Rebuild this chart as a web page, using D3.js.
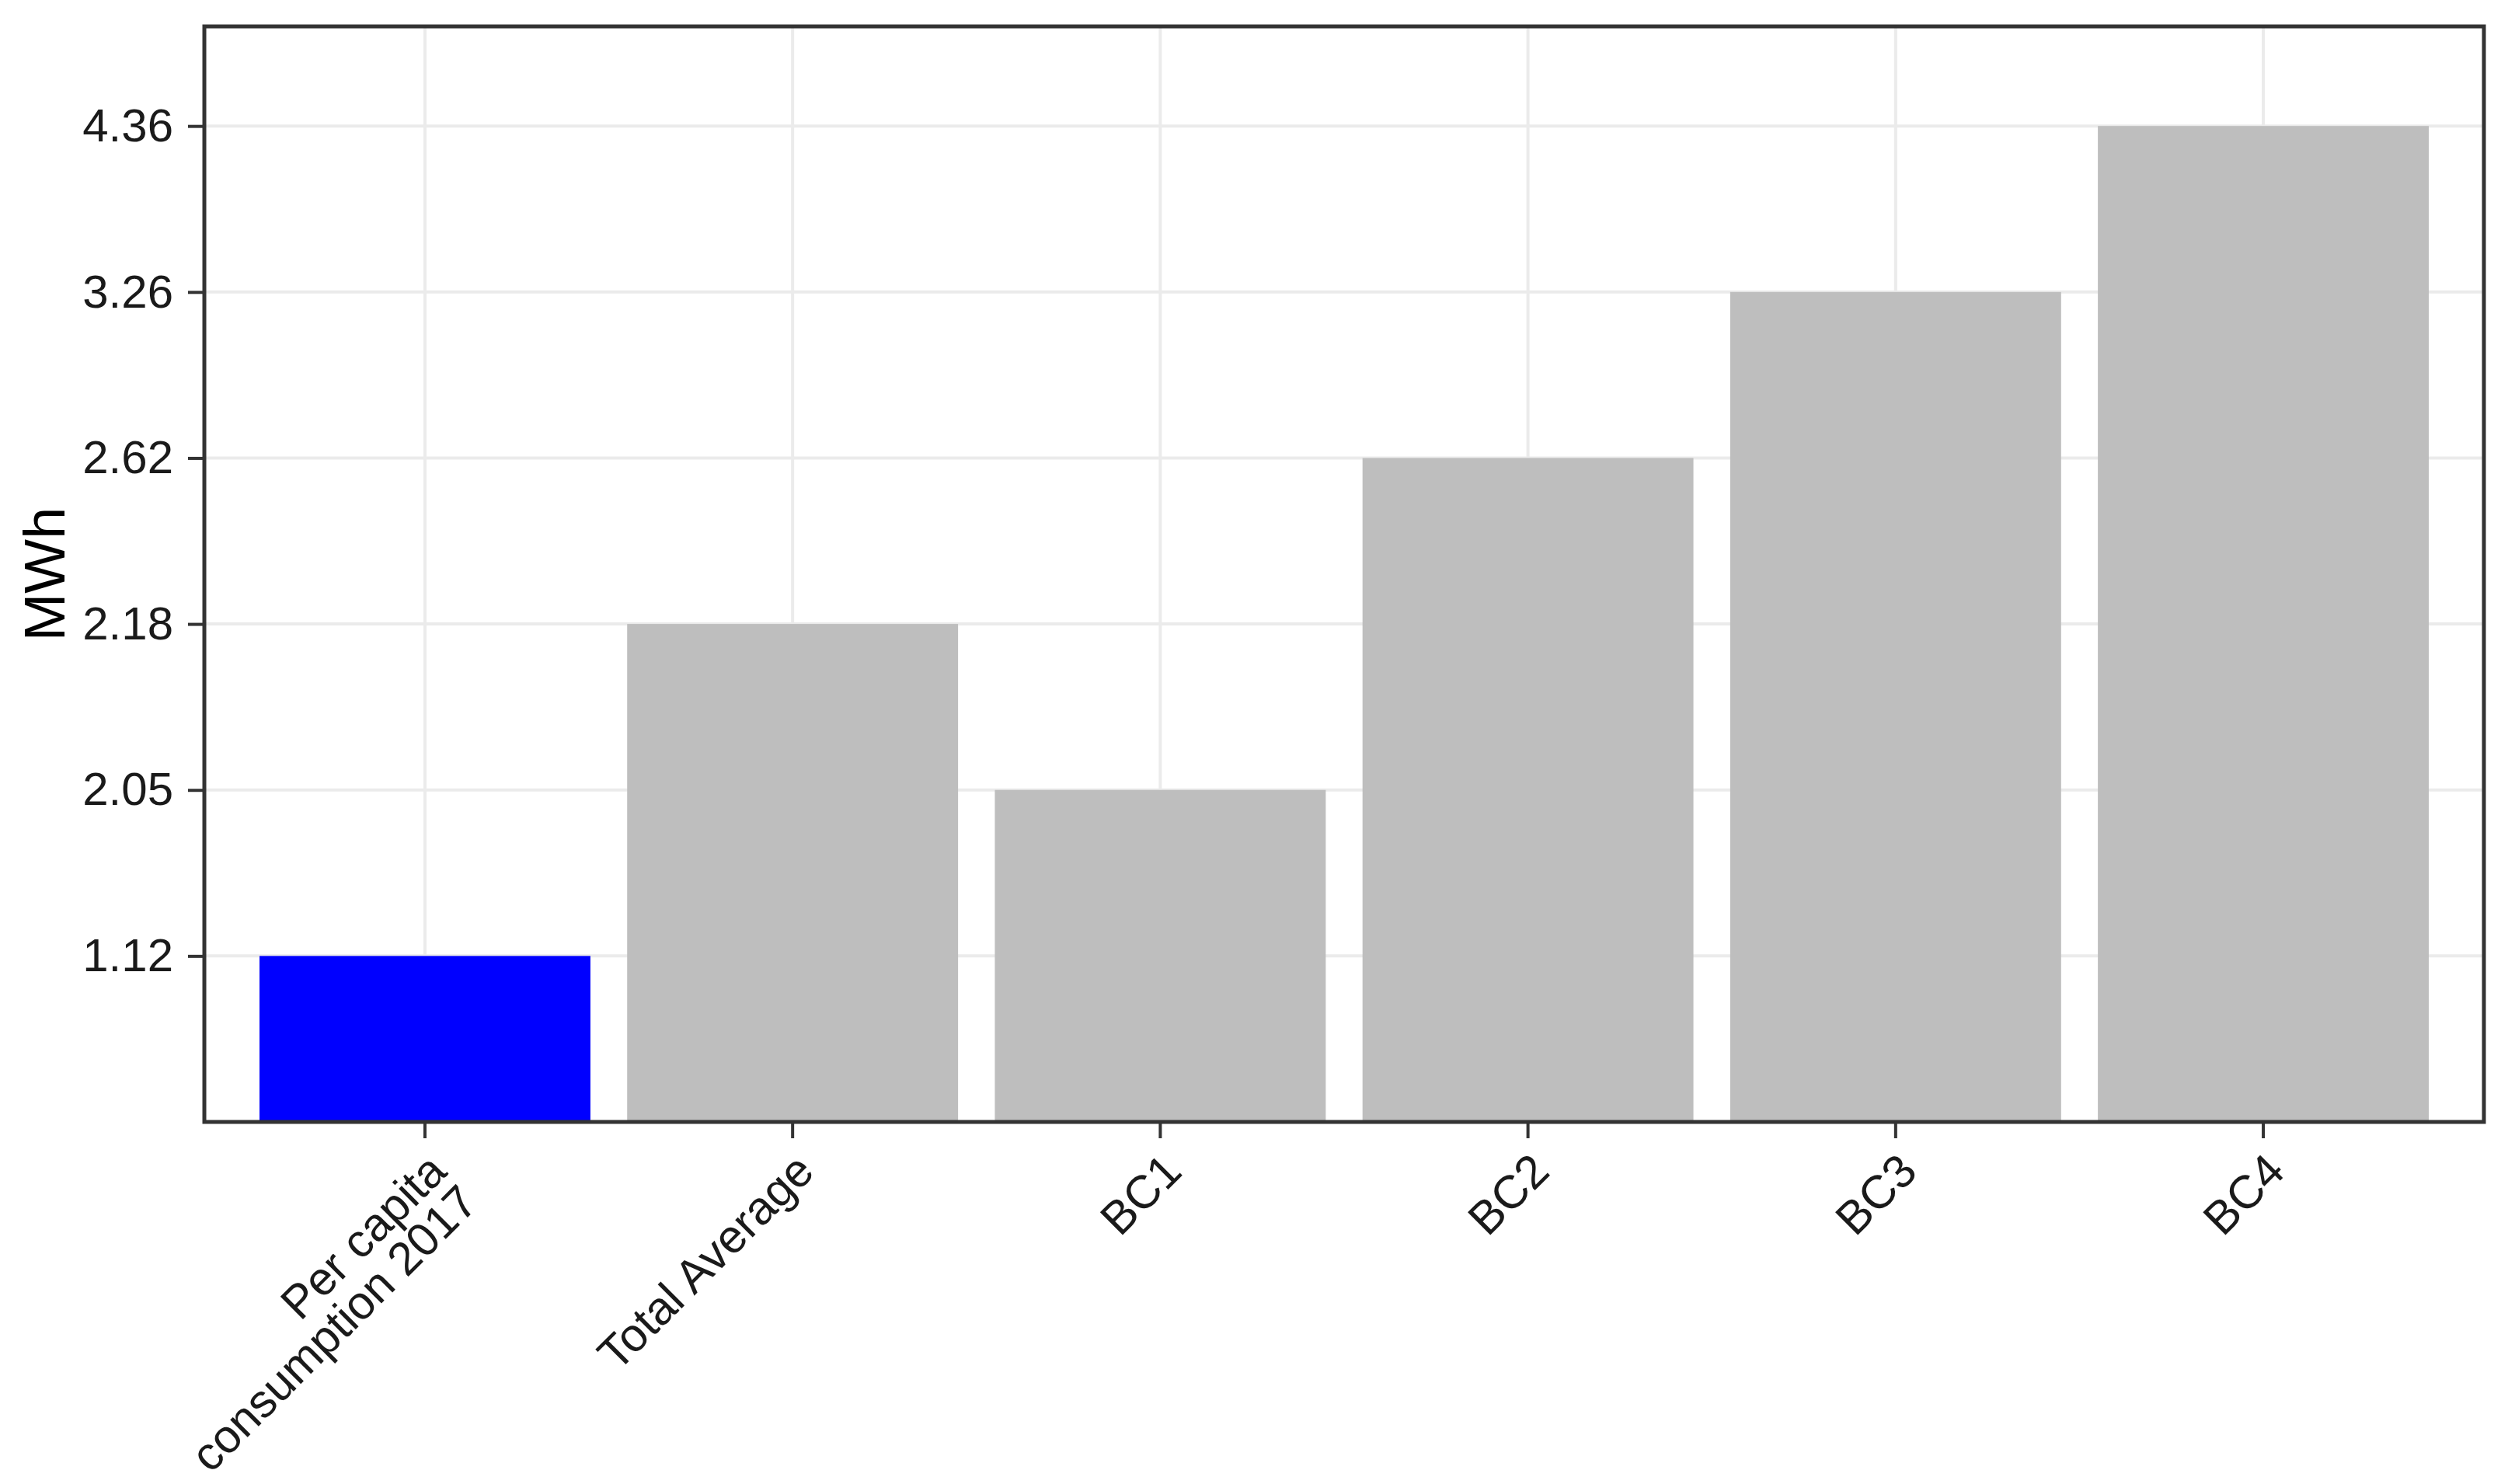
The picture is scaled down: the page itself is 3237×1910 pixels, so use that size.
<!DOCTYPE html>
<html>
<head>
<meta charset="utf-8">
<script src="https://cdn.jsdelivr.net/npm/d3@7"></script>
<style>
  body { margin: 0; background: #fff; }
</style>
</head>
<body>
<script>
// categories and their values (MWh); the y axis is discrete, one level per value
const categories = ["Per capita\nconsumption 2017", "Total Average", "BC1", "BC2", "BC3", "BC4"];
const values = [1.12, 2.18, 2.05, 2.62, 3.26, 4.36];
const barColors = ["#0000FF", "#BEBEBE", "#BEBEBE", "#BEBEBE", "#BEBEBE", "#BEBEBE"];
const yLabel = "MWh";

const width = 3237, height = 1910;
const margin = {top: 34, right: 40, bottom: 466, left: 263};
const fontFamily = "'Liberation Sans', Arial, sans-serif";

const data = categories.map((c, i) => ({cat: c, value: values[i], color: barColors[i]}));

// y levels are the distinct values, sorted, mapped to 1..n as ggplot does with a factor
const levels = Array.from(new Set(values)).sort((a, b) => a - b);

const x = d3.scaleBand()
    .domain(categories)
    .range([margin.left, width - margin.right])
    .paddingInner(0.1)
    .paddingOuter(0.15);

const y = d3.scaleLinear()
    .domain([0, levels.length + 0.6])
    .range([height - margin.bottom, margin.top]);

const level = d3.scaleOrdinal().domain(levels).range(levels.map((d, i) => i + 1));

const svg = d3.select("body").append("svg")
    .attr("width", width)
    .attr("height", height)
    .attr("font-family", fontFamily);

// grid
svg.append("g")
  .selectAll("line.h")
  .data(levels)
  .join("line")
    .attr("x1", margin.left).attr("x2", width - margin.right)
    .attr("y1", d => y(level(d))).attr("y2", d => y(level(d)))
    .attr("stroke", "#EBEBEB").attr("stroke-width", 4);

svg.append("g")
  .selectAll("line.v")
  .data(categories)
  .join("line")
    .attr("x1", d => x(d) + x.bandwidth() / 2).attr("x2", d => x(d) + x.bandwidth() / 2)
    .attr("y1", margin.top).attr("y2", height - margin.bottom)
    .attr("stroke", "#EBEBEB").attr("stroke-width", 4);

// bars
svg.append("g")
  .selectAll("rect")
  .data(data)
  .join("rect")
    .attr("x", d => x(d.cat))
    .attr("width", x.bandwidth())
    .attr("y", d => y(level(d.value)))
    .attr("height", d => y(0) - y(level(d.value)))
    .attr("fill", d => d.color);

// panel border
svg.append("rect")
    .attr("x", margin.left).attr("y", margin.top)
    .attr("width", width - margin.left - margin.right)
    .attr("height", height - margin.top - margin.bottom)
    .attr("fill", "none").attr("stroke", "#333333").attr("stroke-width", 5);

// y axis
const yAxis = svg.append("g")
    .attr("transform", `translate(${margin.left},0)`)
    .call(d3.axisLeft(y)
        .tickValues(levels.map(d => level(d)))
        .tickFormat(i => levels[i - 1].toFixed(2))
        .tickSize(21)
        .tickPadding(19));
yAxis.select(".domain").remove();
yAxis.selectAll(".tick line").attr("stroke", "#333333").attr("stroke-width", 4);
yAxis.selectAll(".tick text")
    .attr("font-size", 60)
    .attr("font-family", fontFamily)
    .attr("fill", "#1a1a1a");

// x axis
const xAxis = svg.append("g")
    .attr("transform", `translate(0,${height - margin.bottom})`)
    .call(d3.axisBottom(x).tickSize(21).tickFormat(""));
xAxis.select(".domain").remove();
xAxis.selectAll(".tick line").attr("stroke", "#333333").attr("stroke-width", 4);

const labels = svg.append("g")
  .selectAll("text")
  .data(categories)
  .join("text")
    .attr("transform", d => `translate(${x(d) + x.bandwidth() / 2},${height - margin.bottom + 36}) rotate(-45)`)
    .attr("text-anchor", "end")
    .attr("font-size", 60)
    .attr("fill", "#1a1a1a");

labels.selectAll("tspan")
  .data(d => d.split("\n"))
  .join("tspan")
    .attr("x", 0)
    .attr("dy", (d, i) => i === 0 ? "0.72em" : "0.95em")
    .text(d => d);

// y title
svg.append("text")
    .attr("transform", `translate(83,${(margin.top + height - margin.bottom) / 2}) rotate(-90)`)
    .attr("text-anchor", "middle")
    .attr("font-size", 74)
    .attr("fill", "#000")
    .text(yLabel);
</script>
</body>
</html>
